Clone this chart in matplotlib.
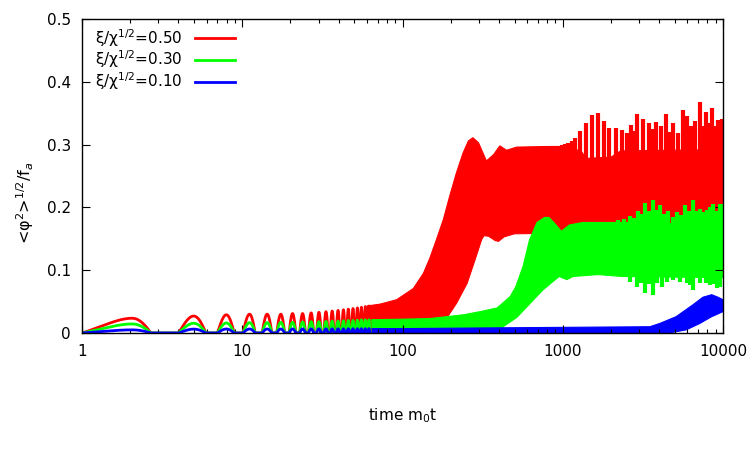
import numpy as np
import matplotlib
matplotlib.use('Agg')
import matplotlib.pyplot as plt
from matplotlib.ticker import FixedLocator, FixedFormatter, LogLocator, NullFormatter

plt.rcParams['font.family'] = ['DejaVu Sans']
plt.rcParams['mathtext.fontset'] = 'dejavusans'

# legend labels
labels = ['ξ/χ$^{1/2}$=0.50', 'ξ/χ$^{1/2}$=0.30', 'ξ/χ$^{1/2}$=0.10']
colors = ['#ff0000', '#00ff00', '#0000ff']

# early oscillations: one arch per half period (start, peak, end time)
arch_start = [1.0, 4.0, 7.0, 10.1, 13.3, 16.4, 19.6, 22.8, 25.9, 29.1, 32.3, 35.4, 38.6, 41.8, 44.9, 48.1, 51.3, 54.4, 57.6, 60.8]
arch_peak = [2.05, 4.97, 7.95, 11.1, 14.3, 17.4, 20.6, 23.8, 26.9, 30.1, 33.3, 36.4, 39.6, 42.8, 45.9, 49.1, 52.3, 55.4, 58.6, 61.8]
arch_end = [2.69, 5.93, 8.91, 12.05, 15.3, 18.4, 21.6, 24.8, 27.9, 31.1, 34.3, 37.4, 40.6, 43.8, 46.9, 50.1, 53.3, 56.4, 59.6, 62.8]
arch_red = [0.0235, 0.027, 0.029, 0.030, 0.030, 0.030, 0.031, 0.031, 0.032, 0.033, 0.034, 0.035, 0.036, 0.037, 0.038, 0.039, 0.040, 0.041, 0.042, 0.043]
arch_green = [0.0144, 0.0155, 0.016, 0.0165, 0.0165, 0.017, 0.017, 0.0175, 0.018, 0.018, 0.0185, 0.019, 0.019, 0.0195, 0.020, 0.020, 0.0205, 0.021, 0.021, 0.021]
arch_blue = [0.005, 0.0062, 0.0064, 0.0064, 0.0064, 0.0064, 0.0065, 0.0065, 0.0065, 0.0066, 0.0066, 0.0066, 0.0067, 0.0067, 0.0068, 0.0068, 0.0068, 0.0069, 0.0069, 0.007]

# later times: fast oscillations fill a band, given by its upper and lower edge
red_hi_t = [60, 72.5, 92, 117, 135, 148, 163, 180, 197, 217, 239, 258, 275, 298, 334, 370, 405, 446, 515, 800, 1000,
            1300, 1400, 2000, 2300, 10000]
red_hi = [0.043, 0.046, 0.053, 0.071, 0.095, 0.119, 0.149, 0.181, 0.218, 0.255, 0.287, 0.306, 0.311, 0.303, 0.274, 0.284,
          0.298, 0.291, 0.296, 0.297, 0.297, 0.290, 0.278, 0.280, 0.290, 0.292]
red_lo_t = [60, 180, 188, 217, 253, 284, 312, 323, 345, 380, 398, 430, 500, 1000, 10000]
red_lo = [0.0, 0.0, 0.023, 0.047, 0.079, 0.117, 0.149, 0.155, 0.154, 0.147, 0.146, 0.153, 0.158, 0.159, 0.160]
# single large swings sticking out above the red band
red_spike_t = [987, 1040, 1086, 1140, 1195, 1284, 1400, 1520, 1657, 1796, 1956, 2153, 2348, 2500, 2660, 2780, 2900,
               3161, 3477, 3650, 3827, 4110, 4417, 4635, 4863, 5250, 5667, 6002, 6340, 6701, 7198, 7500, 7812, 8200,
               8596, 9000, 9370, 9870]
red_spike = [0.300, 0.301, 0.303, 0.305, 0.311, 0.322, 0.335, 0.347, 0.350, 0.338, 0.327, 0.326, 0.324, 0.318, 0.331,
             0.322, 0.348, 0.341, 0.334, 0.325, 0.336, 0.330, 0.348, 0.320, 0.334, 0.318, 0.355, 0.345, 0.330, 0.338,
             0.368, 0.330, 0.352, 0.335, 0.359, 0.330, 0.339, 0.340]

green_hi_t = [60, 100, 148, 240, 305, 390, 470, 510, 565, 620, 690, 770, 820, 880, 980, 1100, 1330, 1900, 2350, 10000]
green_hi = [0.021, 0.022, 0.023, 0.029, 0.034, 0.040, 0.058, 0.074, 0.106, 0.148, 0.176, 0.184, 0.184, 0.176, 0.162,
            0.172, 0.176, 0.176, 0.176, 0.172]
green_lo_t = [60, 400, 425, 518, 625, 755, 870, 950, 1060, 1160, 1660, 2350, 10000]
green_lo = [0.0, 0.0, 0.010, 0.025, 0.047, 0.069, 0.082, 0.090, 0.085, 0.090, 0.093, 0.090, 0.088]
green_up_t = [2200, 2420, 2633, 2800, 2966, 3110, 3266, 3470, 3681, 3860, 4055, 4300, 4564, 4850, 5150, 5470, 5802,
              6160, 6538, 6860, 7198, 7550, 7900, 8300, 8710, 9140, 9590, 9900]
green_up = [0.180, 0.182, 0.186, 0.183, 0.194, 0.190, 0.207, 0.195, 0.211, 0.196, 0.204, 0.190, 0.194, 0.185, 0.192,
            0.188, 0.204, 0.195, 0.211, 0.195, 0.198, 0.192, 0.196, 0.200, 0.205, 0.195, 0.206, 0.205]
green_down_t = [2633, 2900, 3100, 3266, 3470, 3681, 3900, 4150, 4500, 4900, 5400, 5950, 6230, 6538, 7150, 7870,
                8300, 8700, 9200, 9590]
green_down = [0.082, 0.074, 0.080, 0.063, 0.078, 0.061, 0.080, 0.074, 0.082, 0.085, 0.082, 0.079, 0.076, 0.068, 0.080,
              0.079, 0.076, 0.078, 0.072, 0.074]

blue_hi_t = [60, 100, 300, 1000, 3500, 4060, 5100, 6500, 7500, 8500, 9300, 10000]
blue_hi = [0.007, 0.007, 0.008, 0.009, 0.010, 0.0155, 0.026, 0.045, 0.057, 0.061, 0.057, 0.053]
blue_lo_t = [60, 4600, 5900, 7200, 8500, 10000]
blue_lo = [0.0, 0.0, 0.005, 0.0155, 0.026, 0.034]

x_ticks = [1, 10, 100, 1000, 10000]
x_ticklabels = ['1', '10', '100', '1000', '10000']
y_ticks = [0, 0.1, 0.2, 0.3, 0.4, 0.5]
y_ticklabels = ['0', '0.1', '0.2', '0.3', '0.4', '0.5']


def arch_curve(heights):
    # each arch rises as a quarter sine to its peak and falls back to zero
    ts, ys = [], []
    for s, p, e, h in zip(arch_start, arch_peak, arch_end, heights):
        u = np.linspace(0, 1, 30)
        ts += list(s + (p - s) * u) + list(p + (e - p) * u)
        ys += list(h * np.sin(np.pi / 2 * u)) + list(h * np.cos(np.pi / 2 * u))
    return np.array(ts), np.array(ys)


fig = plt.figure(figsize=(7.5, 4.5), dpi=100)
ax = fig.add_axes([82 / 750, 1 - 333 / 450, 641 / 750, 314 / 450])

bands = [
    (arch_red, red_hi_t, red_hi, red_lo_t, red_lo),
    (arch_green, green_hi_t, green_hi, green_lo_t, green_lo),
    (arch_blue, blue_hi_t, blue_hi, blue_lo_t, blue_lo),
]
for i, ((arch_h, hi_t, hi, lo_t, lo), c, lab) in enumerate(zip(bands, colors, labels)):
    t, y = arch_curve(arch_h)
    ax.plot(t, y, color=c, lw=2, label=lab, solid_joinstyle='round')
    xs = np.r_[hi_t, lo_t[::-1]]
    ys = np.r_[hi, lo[::-1]]
    ax.fill(xs, ys, color=c, lw=0.8, ec=c)
    if i == 0:
        base = np.interp(np.log(red_spike_t), np.log(red_hi_t), red_hi)
        ax.vlines(red_spike_t, base - 0.01, red_spike, color=c, lw=3.0)
    if i == 1:
        base = np.interp(np.log(green_up_t), np.log(green_hi_t), green_hi)
        ax.vlines(green_up_t, base - 0.01, green_up, color=c, lw=3.0)
        base = np.interp(np.log(green_down_t), np.log(green_lo_t), green_lo)
        ax.vlines(green_down_t, green_down, base + 0.01, color=c, lw=3.0)

ax.set_xscale('log')
ax.set_xlim(1, 10000)
ax.set_ylim(0, 0.5)
ax.xaxis.set_major_locator(FixedLocator(x_ticks))
ax.xaxis.set_major_formatter(FixedFormatter(x_ticklabels))
ax.xaxis.set_minor_locator(LogLocator(base=10, subs=np.arange(2, 10)))
ax.xaxis.set_minor_formatter(NullFormatter())
ax.set_yticks(y_ticks)
ax.set_yticklabels(y_ticklabels)
ax.tick_params(which='both', direction='in', top=True, right=True, labelsize=11, width=0.8)
ax.tick_params(which='major', length=6, pad=8)
ax.tick_params(which='minor', length=3)
for sp in ax.spines.values():
    sp.set_linewidth(1.0)

ax.set_xlabel('time m$_0$t', fontsize=11)
ax.xaxis.set_label_coords(0.5, -0.235)
fig.text(0.034, 0.55, '<φ$^2$>$^{1/2}$/f$_a$', rotation=90, ha='center', va='center', fontsize=11.5)

leg = ax.legend(loc='upper left', frameon=False, markerfirst=False, fontsize=11,
                handlelength=2.6, labelspacing=0.0, borderaxespad=0.12, bbox_to_anchor=(0.008, 1.0))

fig.savefig('out.png', dpi=100)
